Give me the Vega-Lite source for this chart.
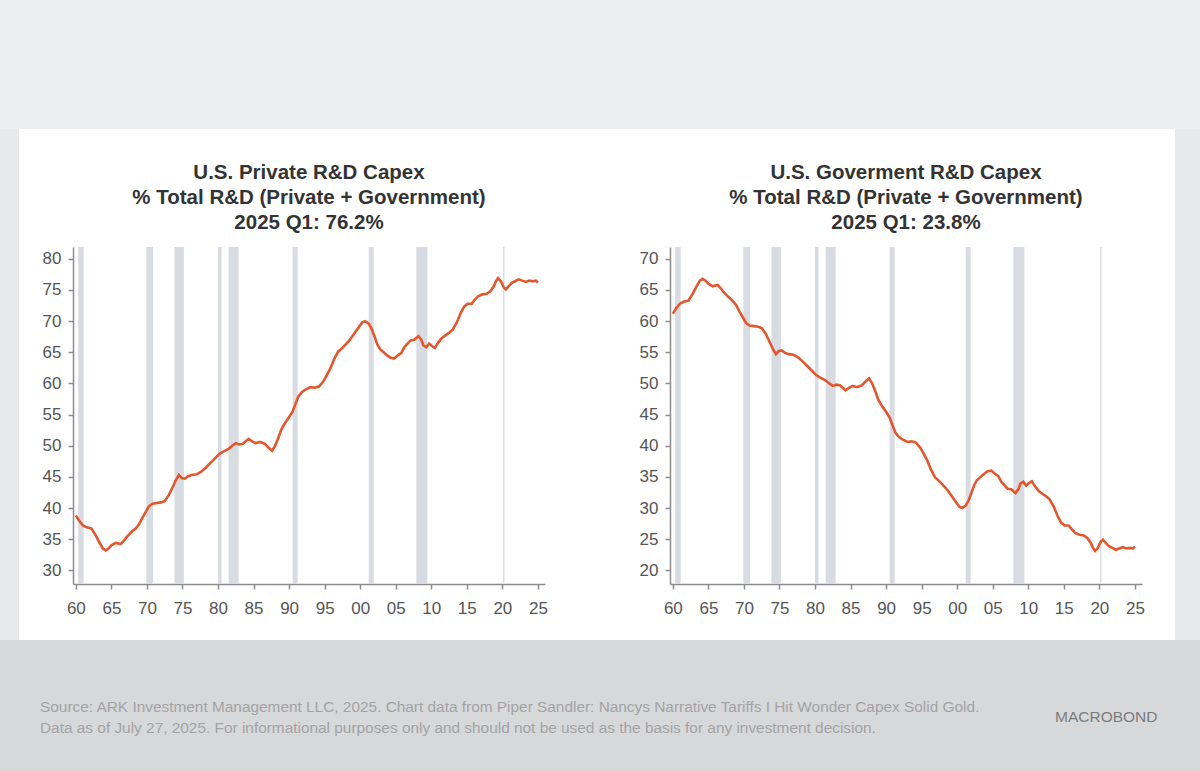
{
  "$schema": "https://vega.github.io/schema/vega-lite/v6.json",
  "background": "#ffffff",
  "padding": 0,
  "spacing": 0,
  "config": {
    "view": {"stroke": null},
    "axis": {
      "grid": false,
      "title": null,
      "domainColor": "#8c8c8c",
      "tickColor": "#8c8c8c",
      "domainWidth": 1.5,
      "tickWidth": 1.5,
      "tickSize": 5,
      "labelFont": "Liberation Sans, Arial",
      "labelFontSize": 17,
      "labelColor": "#555555",
      "labelOverlap": false,
      "labelFlush": false
    },
    "title": {
      "font": "Liberation Sans, Arial",
      "fontSize": 20.5,
      "fontWeight": "bold",
      "color": "#333333",
      "lineHeight": 25
    }
  },
  "datasets": {
    "series": [
      {"t": 1960.0, "priv": 38.8, "gov": 61.2},
      {"t": 1960.5, "priv": 37.9, "gov": 62.1},
      {"t": 1961.0, "priv": 37.2, "gov": 62.8},
      {"t": 1961.5, "priv": 36.9, "gov": 63.1},
      {"t": 1962.2, "priv": 36.7, "gov": 63.3},
      {"t": 1962.8, "priv": 35.6, "gov": 64.4},
      {"t": 1963.3, "priv": 34.5, "gov": 65.5},
      {"t": 1963.8, "priv": 33.5, "gov": 66.5},
      {"t": 1964.2, "priv": 33.2, "gov": 66.8},
      {"t": 1964.6, "priv": 33.5, "gov": 66.5},
      {"t": 1965.0, "priv": 34.0, "gov": 66.0},
      {"t": 1965.6, "priv": 34.4, "gov": 65.6},
      {"t": 1966.3, "priv": 34.2, "gov": 65.8},
      {"t": 1966.8, "priv": 34.8, "gov": 65.2},
      {"t": 1967.2, "priv": 35.4, "gov": 64.6},
      {"t": 1967.8, "priv": 36.1, "gov": 63.9},
      {"t": 1968.4, "priv": 36.7, "gov": 63.3},
      {"t": 1968.9, "priv": 37.4, "gov": 62.6},
      {"t": 1969.3, "priv": 38.3, "gov": 61.7},
      {"t": 1969.8, "priv": 39.3, "gov": 60.7},
      {"t": 1970.3, "priv": 40.3, "gov": 59.7},
      {"t": 1970.8, "priv": 40.7, "gov": 59.3},
      {"t": 1971.4, "priv": 40.8, "gov": 59.2},
      {"t": 1972.0, "priv": 40.9, "gov": 59.1},
      {"t": 1972.5, "priv": 41.1, "gov": 58.9},
      {"t": 1973.1, "priv": 42.1, "gov": 57.9},
      {"t": 1973.6, "priv": 43.3, "gov": 56.7},
      {"t": 1974.0, "priv": 44.3, "gov": 55.7},
      {"t": 1974.5, "priv": 45.3, "gov": 54.7},
      {"t": 1974.9, "priv": 44.8, "gov": 55.2},
      {"t": 1975.3, "priv": 44.7, "gov": 55.3},
      {"t": 1975.8, "priv": 45.1, "gov": 54.9},
      {"t": 1976.3, "priv": 45.3, "gov": 54.7},
      {"t": 1977.0, "priv": 45.4, "gov": 54.6},
      {"t": 1977.6, "priv": 45.8, "gov": 54.2},
      {"t": 1978.3, "priv": 46.5, "gov": 53.5},
      {"t": 1978.9, "priv": 47.2, "gov": 52.8},
      {"t": 1979.6, "priv": 48.0, "gov": 52.0},
      {"t": 1980.2, "priv": 48.7, "gov": 51.3},
      {"t": 1980.8, "priv": 49.1, "gov": 50.9},
      {"t": 1981.5, "priv": 49.5, "gov": 50.5},
      {"t": 1982.0, "priv": 50.0, "gov": 50.0},
      {"t": 1982.5, "priv": 50.4, "gov": 49.6},
      {"t": 1983.0, "priv": 50.2, "gov": 49.8},
      {"t": 1983.5, "priv": 50.3, "gov": 49.7},
      {"t": 1984.3, "priv": 51.1, "gov": 48.9},
      {"t": 1984.8, "priv": 50.7, "gov": 49.3},
      {"t": 1985.3, "priv": 50.4, "gov": 49.6},
      {"t": 1985.9, "priv": 50.6, "gov": 49.4},
      {"t": 1986.6, "priv": 50.3, "gov": 49.7},
      {"t": 1987.1, "priv": 49.7, "gov": 50.3},
      {"t": 1987.6, "priv": 49.2, "gov": 50.8},
      {"t": 1988.0, "priv": 49.9, "gov": 50.1},
      {"t": 1988.4, "priv": 51.0, "gov": 49.0},
      {"t": 1988.9, "priv": 52.6, "gov": 47.4},
      {"t": 1989.4, "priv": 53.6, "gov": 46.4},
      {"t": 1989.9, "priv": 54.4, "gov": 45.6},
      {"t": 1990.5, "priv": 55.5, "gov": 44.5},
      {"t": 1990.9, "priv": 56.7, "gov": 43.3},
      {"t": 1991.3, "priv": 57.9, "gov": 42.1},
      {"t": 1991.8, "priv": 58.6, "gov": 41.4},
      {"t": 1992.3, "priv": 59.0, "gov": 41.0},
      {"t": 1993.0, "priv": 59.4, "gov": 40.6},
      {"t": 1993.6, "priv": 59.3, "gov": 40.7},
      {"t": 1994.2, "priv": 59.5, "gov": 40.5},
      {"t": 1994.8, "priv": 60.3, "gov": 39.7},
      {"t": 1995.3, "priv": 61.3, "gov": 38.7},
      {"t": 1995.8, "priv": 62.4, "gov": 37.6},
      {"t": 1996.3, "priv": 63.8, "gov": 36.2},
      {"t": 1996.9, "priv": 65.1, "gov": 34.9},
      {"t": 1997.4, "priv": 65.6, "gov": 34.4},
      {"t": 1997.9, "priv": 66.2, "gov": 33.8},
      {"t": 1998.4, "priv": 66.8, "gov": 33.2},
      {"t": 1998.8, "priv": 67.4, "gov": 32.6},
      {"t": 1999.3, "priv": 68.2, "gov": 31.8},
      {"t": 1999.8, "priv": 69.0, "gov": 31.0},
      {"t": 2000.3, "priv": 69.8, "gov": 30.2},
      {"t": 2000.7, "priv": 70.0, "gov": 30.0},
      {"t": 2001.2, "priv": 69.6, "gov": 30.4},
      {"t": 2001.6, "priv": 68.8, "gov": 31.2},
      {"t": 2002.0, "priv": 67.6, "gov": 32.4},
      {"t": 2002.4, "priv": 66.3, "gov": 33.7},
      {"t": 2002.8, "priv": 65.5, "gov": 34.5},
      {"t": 2003.3, "priv": 65.0, "gov": 35.0},
      {"t": 2003.8, "priv": 64.5, "gov": 35.5},
      {"t": 2004.3, "priv": 64.1, "gov": 35.9},
      {"t": 2004.8, "priv": 64.0, "gov": 36.0},
      {"t": 2005.3, "priv": 64.5, "gov": 35.5},
      {"t": 2005.8, "priv": 64.9, "gov": 35.1},
      {"t": 2006.2, "priv": 65.8, "gov": 34.2},
      {"t": 2006.6, "priv": 66.3, "gov": 33.7},
      {"t": 2007.1, "priv": 66.9, "gov": 33.1},
      {"t": 2007.6, "priv": 67.0, "gov": 33.0},
      {"t": 2008.2, "priv": 67.6, "gov": 32.4},
      {"t": 2008.6, "priv": 67.0, "gov": 33.0},
      {"t": 2008.9, "priv": 66.1, "gov": 33.9},
      {"t": 2009.3, "priv": 65.8, "gov": 34.2},
      {"t": 2009.7, "priv": 66.4, "gov": 33.6},
      {"t": 2010.1, "priv": 66.0, "gov": 34.0},
      {"t": 2010.5, "priv": 65.7, "gov": 34.3},
      {"t": 2011.0, "priv": 66.6, "gov": 33.4},
      {"t": 2011.5, "priv": 67.3, "gov": 32.7},
      {"t": 2012.1, "priv": 67.8, "gov": 32.2},
      {"t": 2012.6, "priv": 68.2, "gov": 31.8},
      {"t": 2013.0, "priv": 68.6, "gov": 31.4},
      {"t": 2013.6, "priv": 69.8, "gov": 30.2},
      {"t": 2014.1, "priv": 71.2, "gov": 28.8},
      {"t": 2014.6, "priv": 72.3, "gov": 27.7},
      {"t": 2015.1, "priv": 72.8, "gov": 27.2},
      {"t": 2015.7, "priv": 72.8, "gov": 27.2},
      {"t": 2016.1, "priv": 73.4, "gov": 26.6},
      {"t": 2016.6, "priv": 74.0, "gov": 26.0},
      {"t": 2017.2, "priv": 74.3, "gov": 25.7},
      {"t": 2017.8, "priv": 74.4, "gov": 25.6},
      {"t": 2018.3, "priv": 74.8, "gov": 25.2},
      {"t": 2018.8, "priv": 75.6, "gov": 24.4},
      {"t": 2019.1, "priv": 76.4, "gov": 23.6},
      {"t": 2019.4, "priv": 76.9, "gov": 23.1},
      {"t": 2019.8, "priv": 76.4, "gov": 23.6},
      {"t": 2020.2, "priv": 75.4, "gov": 24.6},
      {"t": 2020.5, "priv": 75.1, "gov": 24.9},
      {"t": 2020.9, "priv": 75.6, "gov": 24.4},
      {"t": 2021.3, "priv": 76.1, "gov": 23.9},
      {"t": 2021.8, "priv": 76.4, "gov": 23.6},
      {"t": 2022.3, "priv": 76.7, "gov": 23.3},
      {"t": 2022.8, "priv": 76.5, "gov": 23.5},
      {"t": 2023.3, "priv": 76.3, "gov": 23.7},
      {"t": 2023.8, "priv": 76.5, "gov": 23.5},
      {"t": 2024.3, "priv": 76.4, "gov": 23.6},
      {"t": 2024.7, "priv": 76.5, "gov": 23.5},
      {"t": 2025.0, "priv": 76.2, "gov": 23.8}
    ],
    "recessions": [
      {"start": 1960.33, "end": 1961.1},
      {"start": 1969.92, "end": 1970.87},
      {"start": 1973.87, "end": 1975.2},
      {"start": 1980.0, "end": 1980.5},
      {"start": 1981.5, "end": 1982.9},
      {"start": 1990.5, "end": 1991.2},
      {"start": 2001.2, "end": 2001.9},
      {"start": 2007.9, "end": 2009.45},
      {"start": 2020.1, "end": 2020.3}
    ]
  },
  "vconcat": [
    {
      "width": 1200,
      "height": 129,
      "view": {"fill": "#eceef0", "stroke": null},
      "data": {"values": []},
      "mark": "text"
    },
    {
      "spacing": 0,
      "hconcat": [
        {
          "width": 19,
          "height": 511,
          "view": {"fill": "#e8e9eb", "stroke": null},
          "data": {"values": []},
          "mark": "text"
        },
        {
          "spacing": 0,
          "vconcat": [
            {
              "width": 1156,
              "height": 33,
              "data": {"values": []},
              "mark": "text"
            },
            {
              "spacing": 0,
              "hconcat": [
                {
                  "width": 23,
                  "height": 10,
                  "data": {"values": []},
                  "mark": "text"
                },
                {
                  "spacing": 91,
                  "hconcat": [
                    {
                      "width": 472,
                      "height": 337,
                      "title": {
                        "text": ["U.S. Private R&D Capex", "% Total R&D (Private + Government)", "2025 Q1: 76.2%"],
                        "frame": "group",
                        "anchor": "middle",
                        "offset": 14
                      },
                      "layer": [
                        {
                          "data": {"name": "recessions"},
                          "mark": {"type": "rect", "color": "#d8dbe1"},
                          "encoding": {
                            "x": {
                              "field": "start",
                              "type": "quantitative",
                              "scale": {"domain": [1959.6, 2026], "nice": false, "zero": false},
                              "axis": {
                                "values": [1960, 1965, 1970, 1975, 1980, 1985, 1990, 1995, 2000, 2005, 2010, 2015, 2020, 2025],
                                "labelExpr": "substring(toString(datum.value), 2)",
                                "labelPadding": 11
                              }
                            },
                            "x2": {"field": "end"}
                          }
                        },
                        {
                          "data": {"name": "series"},
                          "mark": {"type": "line", "color": "#e4572e", "strokeWidth": 2.6},
                          "encoding": {
                            "x": {
                              "field": "t",
                              "type": "quantitative",
                              "axis": {
                                "values": [1960, 1965, 1970, 1975, 1980, 1985, 1990, 1995, 2000, 2005, 2010, 2015, 2020, 2025],
                                "labelExpr": "substring(toString(datum.value), 2)",
                                "labelPadding": 11
                              }
                            },
                            "y": {
                              "field": "priv",
                              "type": "quantitative",
                              "scale": {"domain": [27.8, 81.9], "nice": false, "zero": false},
                              "axis": {
                                "values": [30, 35, 40, 45, 50, 55, 60, 65, 70, 75, 80],
                                "labelPadding": 7
                              }
                            }
                          }
                        }
                      ]
                    },
                    {
                      "width": 472,
                      "height": 337,
                      "title": {
                        "text": ["U.S. Goverment R&D Capex", "% Total R&D (Private + Government)", "2025 Q1: 23.8%"],
                        "frame": "group",
                        "anchor": "middle",
                        "offset": 14
                      },
                      "layer": [
                        {
                          "data": {"name": "recessions"},
                          "mark": {"type": "rect", "color": "#d8dbe1"},
                          "encoding": {
                            "x": {
                              "field": "start",
                              "type": "quantitative",
                              "scale": {"domain": [1959.6, 2026], "nice": false, "zero": false},
                              "axis": {
                                "values": [1960, 1965, 1970, 1975, 1980, 1985, 1990, 1995, 2000, 2005, 2010, 2015, 2020, 2025],
                                "labelExpr": "substring(toString(datum.value), 2)",
                                "labelPadding": 11
                              }
                            },
                            "x2": {"field": "end"}
                          }
                        },
                        {
                          "data": {"name": "series"},
                          "mark": {"type": "line", "color": "#e4572e", "strokeWidth": 2.6},
                          "encoding": {
                            "x": {
                              "field": "t",
                              "type": "quantitative",
                              "axis": {
                                "values": [1960, 1965, 1970, 1975, 1980, 1985, 1990, 1995, 2000, 2005, 2010, 2015, 2020, 2025],
                                "labelExpr": "substring(toString(datum.value), 2)",
                                "labelPadding": 11
                              }
                            },
                            "y": {
                              "field": "gov",
                              "type": "quantitative",
                              "scale": {"domain": [17.8, 71.9], "nice": false, "zero": false},
                              "axis": {
                                "values": [20, 25, 30, 35, 40, 45, 50, 55, 60, 65, 70],
                                "labelPadding": 7
                              }
                            }
                          }
                        }
                      ]
                    }
                  ]
                }
              ]
            },
            {
              "width": 1156,
              "height": 18,
              "data": {"values": []},
              "mark": "text"
            }
          ]
        },
        {
          "width": 25,
          "height": 511,
          "view": {"fill": "#e8e9eb", "stroke": null},
          "data": {"values": []},
          "mark": "text"
        }
      ]
    },
    {
      "spacing": 0,
      "hconcat": [
        {
          "width": 1000,
          "height": 131,
          "view": {"fill": "#d7d8da", "stroke": null},
          "title": {
            "text": [
              "Source: ARK Investment Management LLC, 2025. Chart data from Piper Sandler: Nancys Narrative Tariffs I Hit Wonder Capex Solid Gold.",
              "Data as of July 27, 2025. For informational purposes only and should not be used as the basis for any investment decision."
            ],
            "orient": "top",
            "anchor": "start",
            "frame": "group",
            "baseline": "top",
            "offset": -96,
            "dx": 40,
            "font": "Liberation Sans, Arial",
            "fontSize": 15.4,
            "fontWeight": "normal",
            "lineHeight": 20.5,
            "color": "#a3a3a5"
          },
          "data": {"values": []},
          "mark": "text"
        },
        {
          "width": 200,
          "height": 131,
          "view": {"fill": "#d7d8da", "stroke": null},
          "title": {
            "text": "MACROBOND",
            "orient": "top",
            "anchor": "start",
            "frame": "group",
            "baseline": "top",
            "offset": -85,
            "dx": 55,
            "font": "Liberation Sans, Arial",
            "fontSize": 15.5,
            "fontWeight": "normal",
            "color": "#7c7c7e"
          },
          "data": {"values": []},
          "mark": "text"
        }
      ]
    }
  ]
}
